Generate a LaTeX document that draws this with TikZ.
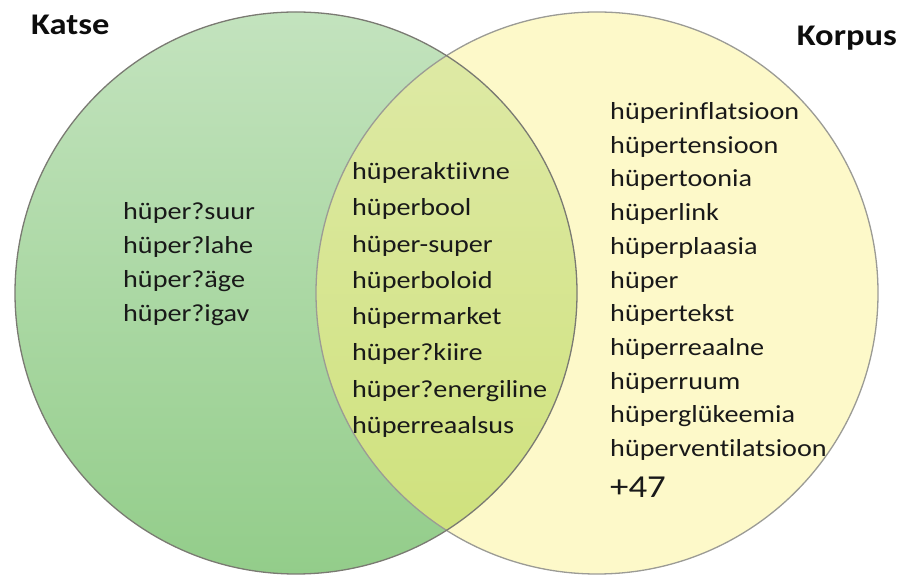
\documentclass[tikz,border=0pt]{standalone}
\usepackage{fontspec}
\setmainfont{Carlito}[FakeStretch=1.15, Ligatures=NoCommon]
\usepackage{tikz}
\usetikzlibrary{positioning}

\definecolor{katsetop}{HTML}{C3E3BE}
\definecolor{katsebot}{HTML}{93CD8A}
\definecolor{korpusfill}{HTML}{FDF9C9}
\definecolor{yhistop}{HTML}{DFEAA8}
\definecolor{yhisbot}{HTML}{CEE17A}
\definecolor{rand}{HTML}{7A7A72}

\tikzset{
  sona/.style={align=left, inner sep=0pt, anchor=west,
    font=\fontsize{24.5}{34}\selectfont, text=black!90},
  pealkiri/.style={inner sep=0pt, font=\fontsize{30}{32}\selectfont\bfseries, text=black!95},
}

\begin{document}
\begin{tikzpicture}[x=1pt, y=1pt]
    \useasboundingbox (0, 0) rectangle (901, 575);

    % ringid
    \shade [top color=katsetop, bottom color=katsebot] (296, 282) circle (281);
    \fill [korpusfill] (597, 282) circle (281);
    \begin{scope}
      \clip (296, 282) circle (281);
      \shade [top color=yhistop, bottom color=yhisbot] (597, 282) circle (281);
    \end{scope}
    \draw [rand!75, line width=1.3pt] (597, 282) circle (281);
    \draw [rand, line width=1.3pt] (296, 282) circle (281);

    \node [pealkiri, anchor=west] (katse) at (31, 550) {Katse};
    \node [pealkiri, anchor=east] (korpus) at (897, 537) {Korpus};

    \node [sona] (ainultkatse) at (123, 311) {hüper?suur\\hüper?lahe\\hüper?äge\\hüper?igav};

    \node [sona, font=\fontsize{24.5}{36.3}\selectfont] (molemad) at (352, 275)
      {hüperaktiivne\\hüperbool\\hüper-super\\hüperboloid\\hüpermarket\\hüper?kiire\\hüper?energiline\\hüperreaalsus};

    \node [sona, font=\fontsize{24.5}{33.7}\selectfont] (ainultkorpus) at (610, 293.5)
      {hüperinflatsioon\\hüpertensioon\\hüpertoonia\\hüperlink\\hüperplaasia\\hüper\\hüpertekst\\hüperreaalne\\hüperruum\\hüperglükeemia\\hüperventilatsioon};
    \node [sona, font=\fontsize{32}{34}\selectfont] (veel) at (610, 88) {+47};
  \end{tikzpicture}
\end{document}
